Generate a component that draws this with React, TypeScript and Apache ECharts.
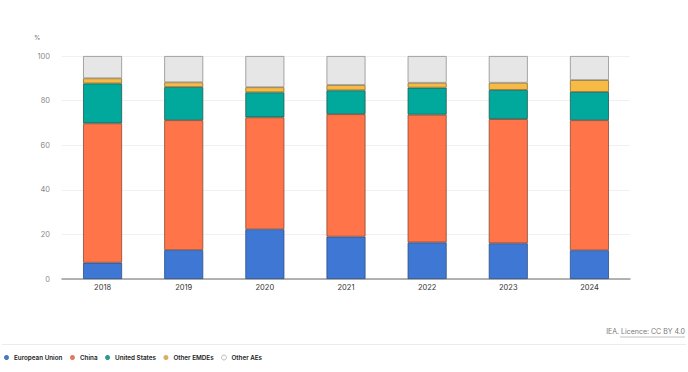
import React, { useEffect, useRef } from "react";
import * as echarts from "echarts";

const categories = ["2018", "2019", "2020", "2021", "2022", "2023", "2024"];
const euValues = [7.3, 13.0, 22.3, 19.0, 16.4, 16.0, 12.9];
const chinaValues = [62.5, 58.2, 50.2, 54.9, 57.3, 55.7, 58.3];
const usValues = [17.9, 14.9, 11.2, 10.7, 12.1, 13.1, 12.7];
const emdeValues = [2.3, 2.1, 2.3, 2.4, 2.2, 3.2, 5.3];
const otherAeValues = [10.0, 11.8, 14.0, 13.0, 12.0, 12.0, 10.8];
const yTicks = [0, 20, 40, 60, 80, 100];

const seriesDefs = [
  { name: "European Union", data: euValues, color: "#3F78D4", border: "#2b4f86", legend: "#4a78c0" },
  { name: "China", data: chinaValues, color: "#FF7448", border: "#8a4a33", legend: "#e07a66" },
  { name: "United States", data: usValues, color: "#00A99B", border: "#1f5a52", legend: "#2a9a90" },
  { name: "Other EMDEs", data: emdeValues, color: "#F6BA45", border: "#8a6e33", legend: "#d9b060" },
  { name: "Other AEs", data: otherAeValues, color: "#E6E6E6", border: "#8f8f8f", legend: "#ffffff" },
];

export default function App() {
  const ref = useRef<HTMLDivElement>(null);
  useEffect(() => {
    if (!ref.current) return;
    const chart = echarts.init(ref.current, null, { renderer: "svg" });
    const font = "Inter, 'Noto Sans', sans-serif";
    chart.setOption({
      animation: false,
      textStyle: { fontFamily: font },
      grid: { left: 62, right: 58, top: 56, bottom: 93, containLabel: false },
      xAxis: {
        type: "category",
        data: categories,
        axisLine: { lineStyle: { color: "#9a9a9a", width: 1.5 } },
        axisTick: { alignWithLabel: true, length: 4, lineStyle: { color: "#666" } },
        axisLabel: { color: "#333", fontSize: 7.5, margin: 4, fontFamily: font },
      },
      yAxis: {
        type: "value",
        min: yTicks[0],
        max: yTicks[yTicks.length - 1],
        interval: 20,
        axisLine: { show: false },
        axisTick: { show: false },
        splitLine: { lineStyle: { color: "#f0f0f0", width: 1 } },
        axisLabel: { color: "#8a8a8a", fontSize: 7.5, margin: 12, fontFamily: font },
      },
      legend: {
        left: 4,
        top: 354.5,
        padding: 0,
        icon: "circle",
        itemWidth: 5,
        itemHeight: 5,
        itemGap: 7.5,
        textStyle: { color: "#222", fontSize: 6.3, fontWeight: 600, fontFamily: font, padding: [0, 0, 0, 0] },
        data: seriesDefs.map((s) => ({
          name: s.name,
          itemStyle: s.name === "Other AEs" ? { color: "#fff", borderColor: "#aaa", borderWidth: 0.8 } : { color: s.legend, borderWidth: 0 },
        })),
      },
      graphic: [
        {
          type: "text",
          left: 34,
          top: 34,
          style: { text: "%", fill: "#777", fontSize: 6.5, fontFamily: font },
        },
        {
          type: "text",
          right: 3,
          top: 328,
          style: { text: "IEA. Licence: CC BY 4.0", fill: "#777", fontSize: 7, fontFamily: font },
        },
        {
          type: "line",
          shape: { x1: 620, y1: 337, x2: 685, y2: 337 },
          style: { stroke: "#999", lineWidth: 0.6 },
        },
        {
          type: "line",
          shape: { x1: 2, y1: 344.5, x2: 686, y2: 344.5 },
          style: { stroke: "#ececec", lineWidth: 1 },
        },
      ],
      series: seriesDefs.map((s) => ({
        name: s.name,
        type: "bar",
        stack: "total",
        barWidth: 39,
        data: s.data,
        itemStyle: { color: s.color, borderColor: s.border, borderWidth: 0.8 },
      })),
    });
    return () => chart.dispose();
  }, []);
  return <div ref={ref} style={{ position: "absolute", left: 0, top: 0, width: 688, height: 372 }} />;
}
